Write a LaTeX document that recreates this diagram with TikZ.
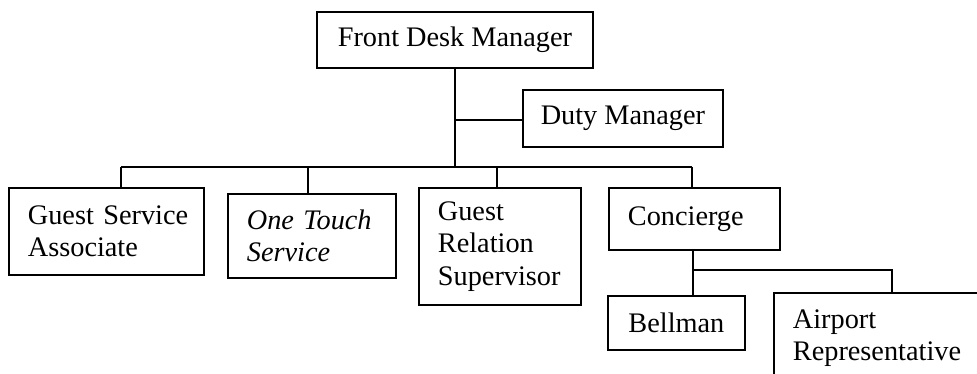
\documentclass[tikz,border=0pt]{standalone}
\usepackage{fontspec}
\setmainfont{Liberation Serif}
\begin{document}
\begin{tikzpicture}[x=1pt,y=1pt,
  box/.style={draw, line width=1.8pt, rectangle, anchor=north west, inner ysep=0pt,
    font=\fontsize{28.3}{32.5}\selectfont},
  lbox/.style={box, inner xsep=19pt, align=left},
  cbox/.style={box, inner xsep=0pt, align=center},
  conn/.style={line width=1.8pt}]
\useasboundingbox (0,0) rectangle (977,-374);
\clip (0,0) rectangle (977,-374);
\node[cbox, minimum width=276pt, minimum height=56pt] (fdm) at (316,-11) {Front Desk Manager};
\node[cbox, minimum width=200pt, minimum height=57pt] (duty) at (522,-89) {Duty Manager};
\node[lbox, text width=157pt, minimum height=87pt] (gsa) at (8,-187) {\mbox{Guest Service}\\Associate};
\node[lbox, text width=130pt, minimum height=84pt, font=\fontsize{28.3}{32.5}\selectfont\itshape] (ots) at (227,-193) {\mbox{One Touch}\\Service};
\node[lbox, text width=124pt, minimum height=117pt] (grs) at (418,-187) {Guest\\Relation\\Supervisor};
\node[lbox, text width=133pt, minimum height=62pt] (con) at (608,-187) {Concierge};
\node[cbox, minimum width=137pt, minimum height=54pt] (bell) at (607,-295) {Bellman};
\node[lbox, text width=182pt, minimum height=90pt] (air) at (773,-292) {Airport\\Representative};
\coordinate (b1) at (121,-167);
\coordinate (b2) at (308,-167);
\coordinate (b3) at (497,-167);
\coordinate (b4) at (692,-167);
\coordinate (s1) at (693,-270);
\coordinate (s2) at (892,-270);
\draw[conn] (fdm.south) -- (fdm.south |- b1);
\draw[conn] ([yshift=-1.5pt]fdm.south |- duty.west) -- ([yshift=-1.5pt]duty.west);
\draw[conn] (b1) -- (b4);
\draw[conn] (b1) -- (b1 |- gsa.north);
\draw[conn] (b2) -- (b2 |- ots.north);
\draw[conn] (b3) -- (b3 |- grs.north);
\draw[conn] (b4) -- (b4 |- con.north);
\draw[conn] (s1 |- con.south) -- (s1 |- bell.north);
\draw[conn] (s1) -- (s2) -- (s2 |- air.north);
\end{tikzpicture}
\end{document}
